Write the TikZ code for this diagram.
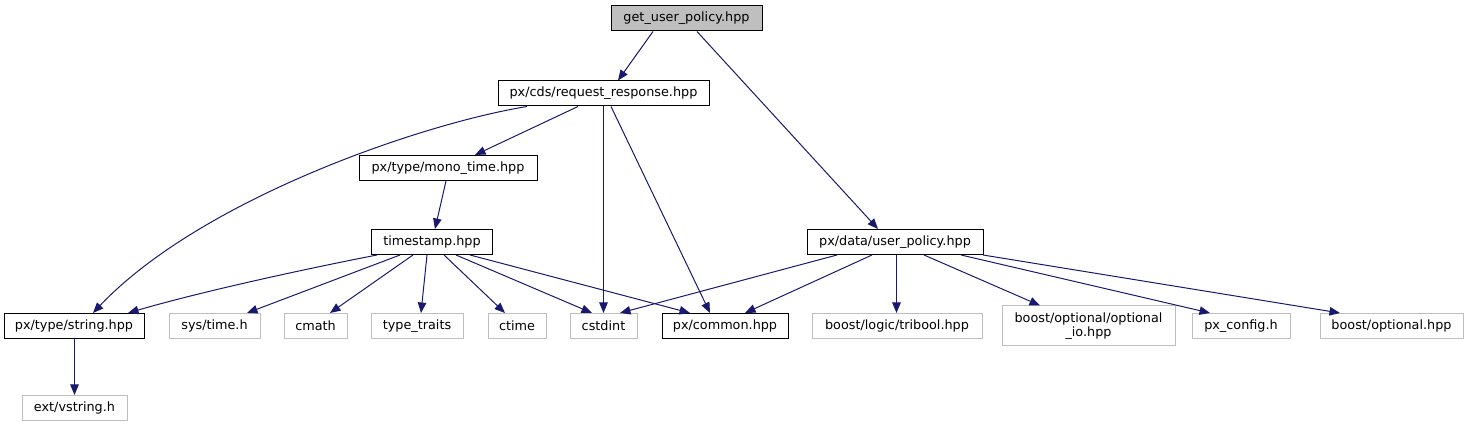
\documentclass[tikz,border=0pt]{standalone}
\usepackage{fontspec}
\setmainfont{DejaVu Sans}
\usetikzlibrary{arrows.meta}
\definecolor{edgeblue}{HTML}{191970}
\definecolor{graybox}{HTML}{BFBFBF}
\begin{document}
\begin{tikzpicture}[x=1pt,y=-1pt,
  box/.style={draw=black, line width=1pt, inner sep=0pt, minimum height=25pt,
    font=\fontsize{12.8}{14.5}\selectfont, align=center},
  ext/.style={box, draw=graybox},
  root/.style={box, fill=graybox},
  dep/.style={draw=edgeblue, line width=1pt, -{Triangle[length=10.5pt,width=8.5pt]}}
]
\useasboundingbox (0,0) rectangle (1468,427);
% nodes
\node[root, minimum width=151pt] (top) at (686.5,18.5) {get\_user\_policy.hpp};
\node[box, minimum width=211pt] (rr) at (603.5,93.5) {px/cds/request\_response.hpp};
\node[box, minimum width=178pt] (mono) at (448,168) {px/type/mono\_time.hpp};
\node[box, minimum width=121pt] (ts) at (432,242) {timestamp.hpp};
\node[box, minimum width=176pt] (up) at (895,242) {px/data/user\_policy.hpp};
\node[box, minimum width=140pt] (str) at (74,326) {px/type/string.hpp};
\node[ext, minimum width=91pt] (sys) at (214.5,326) {sys/time.h};
\node[ext, minimum width=63pt] (cmath) at (315.5,326) {cmath};
\node[ext, minimum width=92pt] (tt) at (417,326) {type\_traits};
\node[ext, minimum width=58pt] (ctime) at (517,326) {ctime};
\node[ext, minimum width=67pt] (cstdint) at (603.5,326) {cstdint};
\node[box, minimum width=126pt] (common) at (725,326) {px/common.hpp};
\node[ext, minimum width=170pt] (tribool) at (897,326) {boost/logic/tribool.hpp};
\node[ext, minimum width=173pt, minimum height=40pt] (optio) at (1088.5,326) {boost/optional/optional\\\_io.hpp};
\node[ext, minimum width=98pt] (pxconfig) at (1241,326) {px\_config.h};
\node[ext, minimum width=143pt] (bopt) at (1391.5,326) {boost/optional.hpp};
\node[ext, minimum width=105pt] (vstr) at (74.5,408) {ext/vstring.h};
% edges
\draw[dep] ([xshift=-33.5pt]top.south) -- ([xshift=14.5pt]rr.north);
\draw[dep] ([xshift=10.5pt]top.south) -- ([xshift=-17pt]up.north);
\draw[dep] ([xshift=-76.5pt]rr.south) .. controls (420,124) and (200,200) .. ([xshift=19pt]str.north);
\draw[dep] ([xshift=-25.5pt]rr.south) -- ([xshift=27pt]mono.north);
\draw[dep] (rr.south) -- (cstdint.north);
\draw[dep] ([xshift=7.5pt]rr.south) -- ([xshift=-15pt]common.north);
\draw[dep] ([xshift=-2pt]mono.south) -- ([xshift=3pt]ts.north);
\draw[dep] ([xshift=-55pt]ts.south) .. controls (300,270) and (200,292) .. ([xshift=54pt]str.north);
\draw[dep] ([xshift=-32pt]ts.south) -- ([xshift=32.5pt]sys.north);
\draw[dep] ([xshift=-19pt]ts.south) -- ([xshift=14.5pt]cmath.north);
\draw[dep] ([xshift=-5pt]ts.south) -- ([xshift=4pt]tt.north);
\draw[dep] ([xshift=12pt]ts.south) -- ([xshift=-12pt]ctime.north);
\draw[dep] ([xshift=24pt]ts.south) -- ([xshift=-11.5pt]cstdint.north);
\draw[dep] ([xshift=38pt]ts.south) -- ([xshift=-35pt]common.north);
\draw[dep] ([xshift=-58pt]up.south) -- ([xshift=16.5pt]cstdint.north);
\draw[dep] ([xshift=-23pt]up.south) -- ([xshift=20pt]common.north);
\draw[dep] ([xshift=1.5pt]up.south) -- ([xshift=-0.5pt]tribool.north);
\draw[dep] ([xshift=29pt]up.south) -- ([xshift=-48.5pt]optio.north);
\draw[dep] ([xshift=66pt]up.south) -- ([xshift=-31pt]pxconfig.north);
\draw[dep] ([xshift=88pt]up.south) -- ([xshift=-51.5pt]bopt.north);
\draw[dep] ([xshift=0.5pt]str.south) -- (vstr.north);
\end{tikzpicture}
\end{document}
